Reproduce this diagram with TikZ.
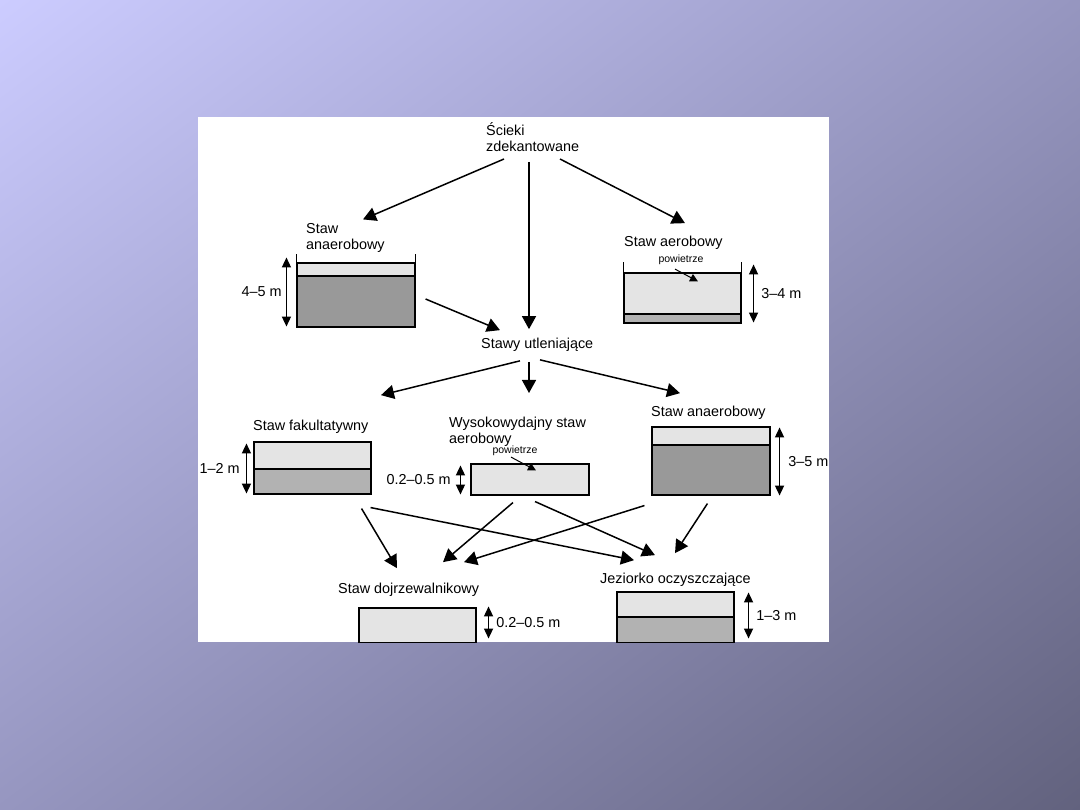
\documentclass[tikz,border=0pt]{standalone}
\usepackage{fontspec}
\setmainfont{Liberation Sans}
\usetikzlibrary{arrows.meta,calc,shadings}

\definecolor{bgtl}{RGB}{204,204,255}
\definecolor{bgmid}{RGB}{150,150,192}
\definecolor{bgbr}{RGB}{98,98,126}
\definecolor{water}{RGB}{228,228,228}
\definecolor{mud}{RGB}{153,153,153}
\definecolor{silt}{RGB}{178,178,178}

\newcommand\labfont{\fontsize{14.4}{16}\selectfont}
\newcommand\airfont{\fontsize{10.5}{12}\selectfont}

\tikzset{
  lbl/.style={inner sep=0pt,anchor=west,text height=10.3pt,text depth=3pt,font=\labfont},
  lbltwo/.style={inner sep=0pt,anchor=north west,align=left,font=\labfont},
  dimlbl/.style={inner sep=0pt,font=\labfont},
  air/.style={inner sep=0pt,text height=7.6pt,text depth=2.2pt,font=\airfont},
  flow/.style={-{Triangle[length=13pt,width=14pt]},line width=1.5pt},
  airflow/.style={-{Triangle[length=8pt,width=8pt]},line width=1pt},
  dim/.style={{Triangle[length=10pt,width=9pt]}-{Triangle[length=10pt,width=9pt]},line width=1.5pt},
  pond/.style={draw,line width=1.1pt,fill=water,inner sep=0pt,minimum width=118pt},
  sludge/.style 2 args={path picture={
    \fill[#1] (path picture bounding box.south west) rectangle ([yshift=#2]path picture bounding box.south east);
    \draw[line width=1.1pt] ([yshift=#2]path picture bounding box.south west) -- ([yshift=#2]path picture bounding box.south east);}}
}

\begin{document}
\begin{tikzpicture}[x=1pt,y=-1pt]
  \useasboundingbox (0,0) rectangle (1080,810);
  \shade[upper left=bgtl,lower right=bgbr,upper right=bgmid,lower left=bgmid] (0,0) rectangle (1080,810);
  \fill[white] (198,117) rectangle (829,642);
  \begin{scope}
  \clip (198,117) rectangle (829,642);
  % labels
  \node[lbltwo] (scieki) at (486,122) {Ścieki\\zdekantowane};
  \node[lbltwo] (lblAn1) at (306,223.4) {Staw\\anaerobowy};
  \node[lbl] (lblAer) at (624,243) {Staw aerobowy};
  \node[lbl] (lblUtl) at (481,345) {Stawy utleniające};
  \node[lbl] (lblFak) at (253,427) {Staw fakultatywny};
  \node[lbltwo] (lblWys) at (449,417) {Wysokowydajny staw\\aerobowy};
  \node[lbl] (lblAn2) at (651,413) {Staw anaerobowy};
  \node[lbl] (lblDoj) at (338,590) {Staw dojrzewalnikowy};
  \node[lbl] (lblJez) at (600,580) {Jeziorko oczyszczające};
  % ponds
  \node[pond,sludge={mud}{51pt},minimum height=64pt] (pAn1) at (356,295) {};
  \draw[line width=1.1pt] (pAn1.north west) -- ++(0,-8) (pAn1.north east) -- ++(0,-8);
  \node[pond,sludge={silt}{9pt},minimum width=117pt,minimum height=50pt] (pAer) at (682.5,298) {};
  \draw[line width=1.1pt] (pAer.north west) -- ++(0,-10) (pAer.north east) -- ++(0,-10);
  \node[pond,sludge={silt}{25pt},minimum width=117pt,minimum height=52pt] (pFak) at (312.5,468) {};
  \node[pond,minimum height=31pt] (pWys) at (530,479.5) {};
  \node[pond,sludge={mud}{50pt},minimum height=68pt] (pAn2) at (711,461) {};
  \node[pond,minimum width=117pt,minimum height=35pt] (pDoj) at (417.5,625.5) {};
  \node[pond,sludge={silt}{26pt},minimum width=117pt,minimum height=51pt] (pJez) at (675.5,617.5) {};
  % air
  \node[air] (pwA) at (681,260) {powietrze};
  \node[air] (pwW) at (515,451) {powietrze};
  \draw[airflow] ($(pwA.south)+(-6,4)$) -- ($(pAer.north)+(15.5,9)$);
  \draw[airflow] ($(pwW.south)+(-4,1)$) -- ($(pWys.north)+(6,7)$);
  % flows
  \draw[flow] ($(scieki.north west)+(18,37)$) -- ($(lblAn1.north west)+(57,-4)$);
  \draw[flow] ($(scieki.north west)+(43,40)$) -- ($(lblUtl.north west)+(48,-9)$);
  \draw[flow] ($(scieki.north west)+(74,37)$) -- ($(lblAer.north west)+(61,-13)$);
  \draw[flow] ($(pAn1.east)+(10,4)$) -- ($(lblUtl.north west)+(19,-8)$);
  \draw[flow] ($(lblUtl.south west)+(39,9)$) -- ($(lblFak.north west)+(128,-25)$);
  \draw[flow] ($(lblUtl.south west)+(48,10)$) -- ($(lblWys.north west)+(80,-24)$);
  \draw[flow] ($(lblUtl.south west)+(59,8)$) -- ($(lblAn2.north west)+(29,-13)$);
  \draw[flow] ($(pFak.south east)+(-10,14)$) -- ($(lblDoj.north west)+(59,-15)$);
  \draw[flow] ($(pFak.south east)+(-1,13)$) -- ($(lblJez.north west)+(34,-13)$);
  \draw[flow] ($(pWys.south)+(-17,7)$) -- ($(lblDoj.north west)+(105,-21)$);
  \draw[flow] ($(pWys.south)+(5,6)$) -- ($(lblJez.north west)+(55,-18)$);
  \draw[flow] ($(pAn2.south west)+(-7,10)$) -- ($(lblDoj.north west)+(126,-21)$);
  \draw[flow] ($(pAn2.south west)+(56,8)$) -- ($(lblJez.north west)+(75,-20)$);
  % depths
  \draw[dim] ($(pAn1.north west)+(-10,-5)$) -- node[dimlbl,anchor=east,xshift=-4pt] (dAn1) {4–5 m} ($(pAn1.south west)+(-10,-1)$);
  \draw[dim] ($(pAer.north east)+(12,-8)$) -- node[dimlbl,anchor=west,xshift=7pt] (dAer) {3–4 m} ($(pAer.south east)+(12,-1)$);
  \draw[dim] ($(pFak.north west)+(-7,2)$) -- node[dimlbl,anchor=east,xshift=-6pt] (dFak) {1–2 m} ($(pFak.south west)+(-7,-1)$);
  \draw[dim] ($(pWys.north west)+(-10,2)$) -- node[dimlbl,anchor=east,xshift=-9pt] (dWys) {0.2–0.5 m} ($(pWys.south west)+(-10,-1)$);
  \draw[dim] ($(pAn2.north east)+(9,1)$) -- node[dimlbl,anchor=west,xshift=8pt] (dAn2) {3–5 m} ($(pAn2.south east)+(9,0)$);
  \draw[dim] ($(pDoj.north east)+(12,-1)$) -- node[dimlbl,anchor=west,xshift=7pt] (dDoj) {0.2–0.5 m} ($(pDoj.south east)+(12,-5)$);
  \draw[dim] ($(pJez.north east)+(14,1)$) -- node[dimlbl,anchor=west,xshift=7pt] (dJez) {1–3 m} ($(pJez.south east)+(14,-5)$);
  \end{scope}
\end{tikzpicture}
\end{document}
